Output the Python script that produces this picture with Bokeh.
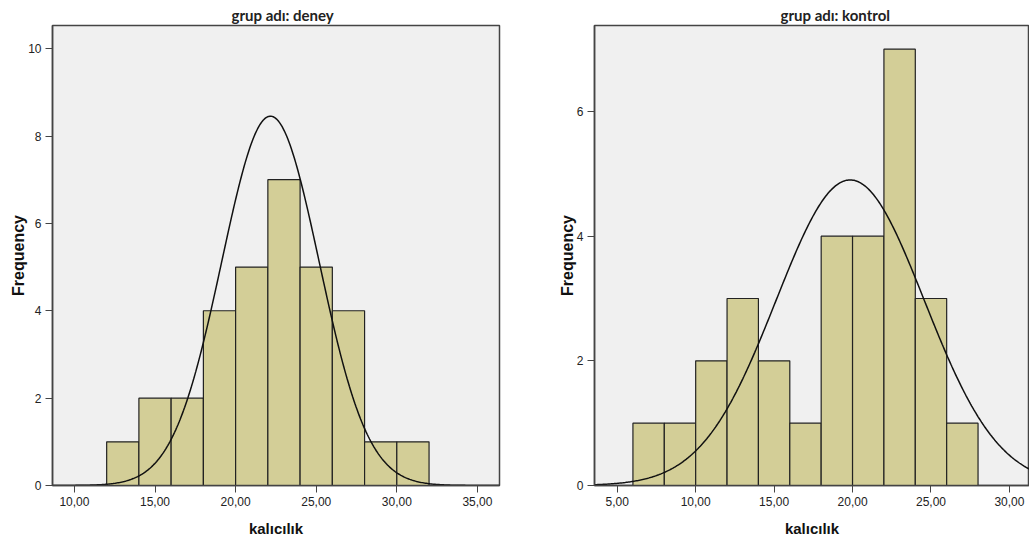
import numpy as np
from bokeh.plotting import figure
from bokeh.layouts import row
from bokeh.models import Range1d, FixedTicker, Title
from bokeh.embed import file_html
from bokeh.resources import INLINE

# ---- data ----
deney_edges = [12, 14, 16, 18, 20, 22, 24, 26, 28, 30, 32]
deney_counts = [1, 2, 2, 4, 5, 7, 5, 4, 1, 1]
deney_mean = 22.16
deney_sd = 3.02
deney_n = 32

kontrol_edges = [6, 8, 10, 12, 14, 16, 18, 20, 22, 24, 26, 28]
kontrol_counts = [1, 1, 2, 3, 2, 1, 4, 4, 7, 3, 1]
kontrol_mean = 19.85
kontrol_sd = 4.72
kontrol_n = 29

deney_xticks = [10, 15, 20, 25, 30, 35]
kontrol_xticks = [5, 10, 15, 20, 25, 30]
deney_yticks = [0, 2, 4, 6, 8, 10]
kontrol_yticks = [0, 2, 4, 6]

BAR = "#D3CE97"
BG = "#F0F0F0"


def panel(title, edges, counts, mean, sd, n, xticks, yticks, xr, yr,
          width, border_left, border_right, title_offset):
    p = figure(width=width, height=542, x_range=Range1d(*xr), y_range=Range1d(*yr),
               output_backend="svg", toolbar_location=None,
               min_border_left=border_left, min_border_right=border_right,
               min_border_top=25, min_border_bottom=57)
    p.title = Title(text=title, align="left", text_font="Lato",
                    text_font_size="15px", text_font_style="bold",
                    text_color="#222222", offset=title_offset, standoff=3)
    p.background_fill_color = BG
    p.border_fill_color = "white"
    p.outline_line_color = "#444444"
    p.outline_line_width = 1.5
    p.xgrid.visible = False
    p.ygrid.visible = False

    left = edges[:-1]
    right = edges[1:]
    p.quad(left=left, right=right, bottom=0, top=counts, fill_color=BAR,
           line_color="#222222", line_width=1.2)

    bw = edges[1] - edges[0]
    xs = np.linspace(xr[0], xr[1], 400)
    ys = n * bw / (sd * np.sqrt(2 * np.pi)) * np.exp(-0.5 * ((xs - mean) / sd) ** 2)
    p.line(xs, ys, line_color="#111111", line_width=1.5)

    p.xaxis.ticker = FixedTicker(ticks=xticks)
    p.xaxis.major_label_overrides = {t: f"{t},00" for t in xticks}
    p.yaxis.ticker = FixedTicker(ticks=yticks)
    for ax in (p.xaxis[0], p.yaxis[0]):
        ax.axis_line_color = "#444444"
        ax.axis_line_width = 1.5
        ax.major_tick_line_color = "#444444"
        ax.major_tick_out = 7
        ax.major_tick_in = 0
        ax.minor_tick_line_color = None
        ax.major_label_text_font = "Liberation Sans"
        ax.major_label_text_font_size = "12px"
        ax.major_label_text_color = "#222222"
        ax.axis_label_text_font = "Liberation Sans"
        ax.axis_label_text_font_style = "bold"
        ax.axis_label_text_color = "#111111"
    p.xaxis.axis_label = "kalıcılık"
    p.xaxis.axis_label_text_font_size = "15px"
    p.xaxis.major_label_standoff = 4
    p.xaxis.axis_label_standoff = 11
    p.yaxis.axis_label = "Frequency"
    p.yaxis.axis_label_text_font_size = "16px"
    p.yaxis.major_label_standoff = 4
    p.yaxis.axis_label_standoff = -2
    return p


p1 = panel("grup adı: deney", deney_edges, deney_counts, deney_mean, deney_sd, deney_n,
           deney_xticks, deney_yticks, (8.64, 36.37), (0, 10.53), 520, 52, 21, 179)
p2 = panel("grup adı: kontrol", kontrol_edges, kontrol_counts, kontrol_mean, kontrol_sd,
           kontrol_n, kontrol_xticks, kontrol_yticks, (3.55, 31.28), (0, 7.38), 509, 74, 0, 186)

layout = row(p1, p2)
open("out.html", "w").write(file_html(layout, INLINE))
